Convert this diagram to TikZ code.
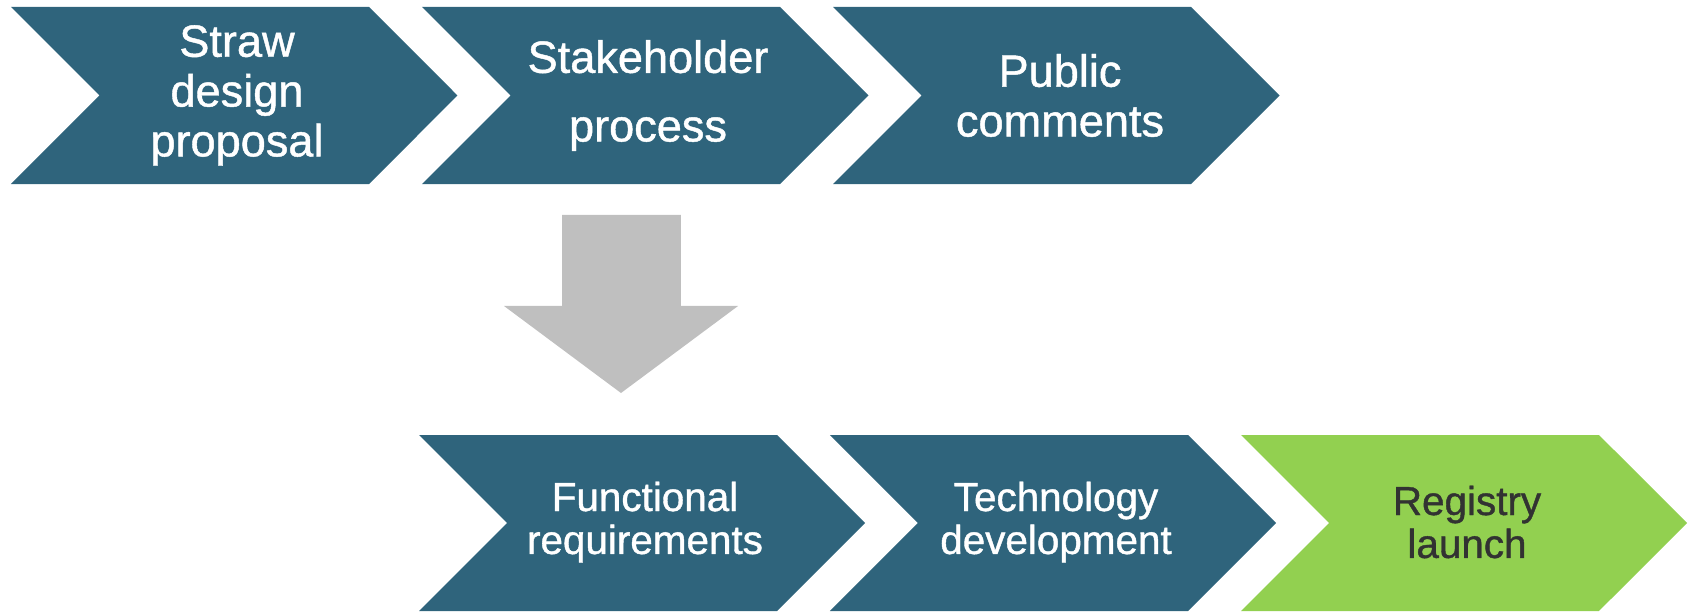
\documentclass[tikz,border=0pt]{standalone}
\usepackage{fontspec}
\setmainfont{Liberation Sans}
\newfontfamily\stepfont{Liberation Sans}[FakeBold=1]
\definecolor{stepteal}{RGB}{47,100,124}
\definecolor{stepgreen}{RGB}{146,208,80}
\definecolor{arrowgray}{RGB}{191,191,191}
\definecolor{darktext}{RGB}{50,50,50}
\tikzset{
  chevron/.style={fill=stepteal},
  lastchevron/.style={fill=stepgreen},
  downarrow/.style={fill=arrowgray},
  toplabel/.style={text=white, align=center, font=\stepfont\fontsize{14.4}{15.9}\selectfont},
  botlabel/.style={text=white, align=center, font=\stepfont\fontsize{12.9}{13.7}\selectfont},
}

\begin{document}
\begin{tikzpicture}
\useasboundingbox (0,0) rectangle (19.0,6.864);
% first row
\fill[chevron] (0.123,6.786) -- (4.139,6.786) -- (5.131,5.793) -- (4.139,4.800) -- (0.123,4.800) -- (1.116,5.793) -- cycle;
\fill[chevron] (4.733,6.786) -- (8.749,6.786) -- (9.741,5.793) -- (8.749,4.800) -- (4.733,4.800) -- (5.726,5.793) -- cycle;
\fill[chevron] (9.343,6.786) -- (13.358,6.786) -- (14.351,5.793) -- (13.358,4.800) -- (9.343,4.800) -- (10.336,5.793) -- cycle;
\node[toplabel] (straw) at (2.658,5.793) {Straw\\design\\proposal};
\node[toplabel] (stake) at (7.268,5.793) {Stakeholder\\[6pt]process};
\node[toplabel] (public) at (11.889,5.793) {Public\\comments};
% down arrow
\fill[downarrow] (6.304,4.453) -- (7.638,4.453) -- (7.638,3.432) -- (8.278,3.432) -- (6.965,2.456) -- (5.653,3.432) -- (6.304,3.432) -- cycle;
% second row
\fill[chevron] (4.700,1.985) -- (8.715,1.985) -- (9.702,0.998) -- (8.715,0.011) -- (4.700,0.011) -- (5.687,0.998) -- cycle;
\fill[chevron] (9.309,1.985) -- (13.325,1.985) -- (14.312,0.998) -- (13.325,0.011) -- (9.309,0.011) -- (10.296,0.998) -- cycle;
\fill[lastchevron] (13.919,1.985) -- (17.934,1.985) -- (18.922,0.998) -- (17.934,0.011) -- (13.919,0.011) -- (14.906,0.998) -- cycle;
\node[botlabel] (funcreq) at (7.234,1.009) {Functional\\requirements};
\node[botlabel] (techdev) at (11.844,1.009) {Technology\\development};
\node[botlabel, text=darktext] (launch) at (16.454,1.009) {Registry\\launch};
\end{tikzpicture}
\end{document}
